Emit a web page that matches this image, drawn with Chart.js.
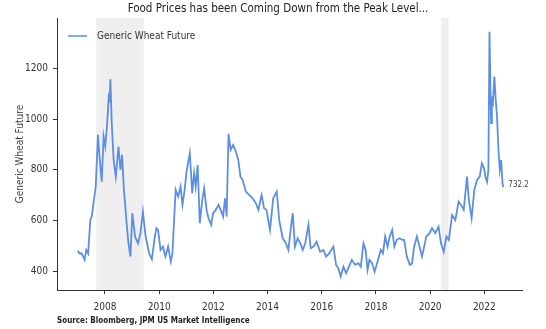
<html>
  <body style="margin:0;background:#fff">
    <div style="width:546px;height:329px">
      <canvas id="myChart"></canvas>
    </div>

    <script src="https://cdn.jsdelivr.net/npm/chart.js"></script>

    <script>
      "use strict";

      // decimal years and wheat future prices (cents/bu)
      const years = [
        2007.00, 2007.06, 2007.13, 2007.20, 2007.25, 2007.31, 2007.38, 2007.46, 2007.52, 2007.56,
        2007.66, 2007.74, 2007.80, 2007.88, 2007.95, 2008.01, 2008.07, 2008.14, 2008.17, 2008.20,
        2008.25, 2008.32, 2008.40, 2008.50, 2008.57, 2008.63, 2008.70, 2008.79, 2008.86, 2008.94,
        2009.01, 2009.11, 2009.22, 2009.31, 2009.40, 2009.50, 2009.63, 2009.73, 2009.84, 2009.90,
        2009.96, 2010.05, 2010.14, 2010.23, 2010.33, 2010.43, 2010.49, 2010.55, 2010.61, 2010.70,
        2010.79, 2010.86, 2010.94, 2011.01, 2011.13, 2011.22, 2011.29, 2011.35, 2011.42, 2011.50,
        2011.59, 2011.66, 2011.75, 2011.82, 2011.92, 2011.99, 2012.09, 2012.19, 2012.27, 2012.36,
        2012.43, 2012.49, 2012.56, 2012.64, 2012.73, 2012.83, 2012.92, 2013.00, 2013.08, 2013.20,
        2013.32, 2013.45, 2013.57, 2013.66, 2013.78, 2013.87, 2013.96, 2014.09, 2014.21, 2014.34,
        2014.43, 2014.56, 2014.68, 2014.77, 2014.85, 2014.93, 2015.01, 2015.11, 2015.21, 2015.30,
        2015.39, 2015.51, 2015.59, 2015.70, 2015.81, 2015.94, 2016.06, 2016.16, 2016.28, 2016.43,
        2016.53, 2016.61, 2016.70, 2016.80, 2016.90, 2016.98, 2017.11, 2017.23, 2017.35, 2017.44,
        2017.54, 2017.62, 2017.69, 2017.76, 2017.86, 2017.95, 2018.06, 2018.18, 2018.26, 2018.34,
        2018.43, 2018.51, 2018.60, 2018.68, 2018.77, 2018.87, 2018.97, 2019.04, 2019.14, 2019.25,
        2019.33, 2019.41, 2019.51, 2019.60, 2019.70, 2019.78, 2019.86, 2019.98, 2020.07, 2020.19,
        2020.31, 2020.40, 2020.50, 2020.60, 2020.69, 2020.81, 2020.93, 2021.05, 2021.18, 2021.24,
        2021.36, 2021.43, 2021.53, 2021.63, 2021.73, 2021.83, 2021.91, 2021.99, 2022.04, 2022.10,
        2022.15, 2022.19, 2022.25, 2022.28, 2022.31, 2022.37, 2022.42, 2022.47, 2022.52, 2022.57,
        2022.62, 2022.67, 2022.70
      ];
      const wheat = [
        481, 470, 471, 458, 445, 484, 470, 602, 620, 655,
        734, 938, 852, 753, 931, 892, 964, 1089, 1080, 1157,
        984, 839, 773, 892, 800, 859, 721, 602, 517, 458,
        629, 537, 510, 550, 635, 537, 471, 447, 537, 570,
        563, 484, 497, 458, 497, 438, 470, 600, 721, 694,
        734, 662, 721, 793, 866, 708, 787, 734, 819, 589,
        681, 727, 642, 609, 583, 629, 642, 662, 642, 616,
        688, 616, 942, 879, 898, 872, 839, 773, 760, 714,
        701, 688, 668, 642, 701, 649, 642, 563, 688, 714,
        602, 530, 510, 484, 563, 629, 497, 530, 510, 484,
        510, 583, 491, 497, 517, 477, 484, 458, 471, 497,
        425, 412, 379, 418, 392, 412, 445, 425, 432, 418,
        510, 484, 405, 445, 432, 398, 438, 484, 471, 537,
        497, 537, 563, 497, 524, 530, 524, 524, 458, 425,
        430, 497, 537, 500, 458, 497, 537, 550, 570, 550,
        576, 510, 477, 537, 524, 622, 602, 675, 655, 642,
        773, 681, 609, 721, 760, 773, 826, 806, 773, 753,
        800, 1345, 984, 1089, 1050, 1168, 1076, 1010, 879, 800,
        839, 747, 732.2
      ];

      // recession shading (decimal years)
      const shadeStart = [2007.68, 2020.41];
      const shadeEnd = [2009.43, 2020.68];

      const xTicks = [2008, 2010, 2012, 2014, 2016, 2018, 2020, 2022];
      const yTicks = [400, 600, 800, 1000, 1200];

      const seriesLabel = 'Generic Wheat Future';
      const titleText = 'Food Prices has been Coming Down from the Peak Level...';
      const sourceText = 'Source: Bloomberg, JPM US Market Intelligence';

      const FONT = "'Liberation Sans Narrow', 'DejaVu Sans Condensed', sans-serif";
      const LINE = 'rgb(92, 142, 228)';

      const extras = {
        id: 'extras',
        beforeDatasetsDraw(chart) {
          const c = chart.ctx, a = chart.chartArea, x = chart.scales.x;
          c.save();
          c.fillStyle = '#efefef';
          for (let i = 0; i < shadeStart.length; i++) {
            const x0 = x.getPixelForValue(shadeStart[i]);
            const x1 = x.getPixelForValue(shadeEnd[i]);
            c.fillRect(x0, a.top, x1 - x0, a.bottom - a.top);
          }
          c.restore();
        },
        afterDatasetsDraw(chart) {
          const c = chart.ctx, a = chart.chartArea;
          const x = chart.scales.x, y = chart.scales.y;
          c.save();
          // title
          c.font = '11.5px ' + FONT;
          c.fillStyle = '#222';
          c.textAlign = 'center';
          c.textBaseline = 'middle';
          c.fillText(titleText, 278, 9);
          c.textAlign = 'left';
          // legend
          c.strokeStyle = LINE;
          c.lineWidth = 1.5;
          c.beginPath();
          c.moveTo(a.left + 11, 36);
          c.lineTo(a.left + 30, 36);
          c.stroke();
          c.fillStyle = '#333';
          c.font = '10px ' + FONT;
          c.fillText(seriesLabel, a.left + 40, 36);
          // last value
          const n = wheat.length - 1;
          c.font = '8px ' + FONT;
          c.fillStyle = '#444';
          c.fillText(String(wheat[n]), x.getPixelForValue(years[n]) + 5, y.getPixelForValue(wheat[n]) - 2);
          // source
          c.font = 'bold 8px ' + FONT;
          c.fillStyle = '#222';
          c.fillText(sourceText, a.left, 321);
          c.restore();
        }
      };

      const ctx = document.getElementById('myChart').getContext('2d');
      new Chart(ctx, {
        type: 'line',
        data: {
          datasets: [{
            label: seriesLabel,
            data: years.map((t, i) => ({ x: t, y: wheat[i] })),
            borderColor: LINE,
            borderWidth: 1.8,
            pointRadius: 0,
            tension: 0,
            fill: false
          }]
        },
        options: {
          responsive: true,
          maintainAspectRatio: false,
          animation: false,
          events: [],
          layout: { padding: { left: 0, right: 24, top: 18, bottom: 0 } },
          scales: {
            x: {
              type: 'linear',
              min: 2006.23,
              max: 2023.39,
              afterBuildTicks: axis => { axis.ticks = xTicks.map(v => ({ value: v })); },
              afterFit: axis => { axis.height = 39; },
              ticks: {
                callback: v => String(v),
                color: '#333',
                font: { family: FONT, size: 10 },
                padding: 7,
                maxRotation: 0
              },
              grid: { drawOnChartArea: false, drawTicks: true, tickLength: 4, color: '#333' },
              border: { display: true, color: '#333', width: 1 }
            },
            y: {
              min: 326,
              max: 1399,
              afterBuildTicks: axis => { axis.ticks = yTicks.map(v => ({ value: v })); },
              afterFit: axis => { axis.width = 57; },
              ticks: {
                callback: v => String(v),
                color: '#333',
                font: { family: FONT, size: 10 },
                padding: 5
              },
              grid: { drawOnChartArea: false, drawTicks: true, tickLength: 4, color: '#333' },
              border: { display: true, color: '#333', width: 1 },
              title: {
                display: true,
                text: seriesLabel,
                color: '#444',
                font: { family: FONT, size: 10 },
                padding: { top: 14, bottom: 0 }
              }
            }
          },
          plugins: {
            legend: { display: false },
            tooltip: { enabled: false }
          }
        },
        plugins: [extras]
      });
    </script>
  </body>
</html>
